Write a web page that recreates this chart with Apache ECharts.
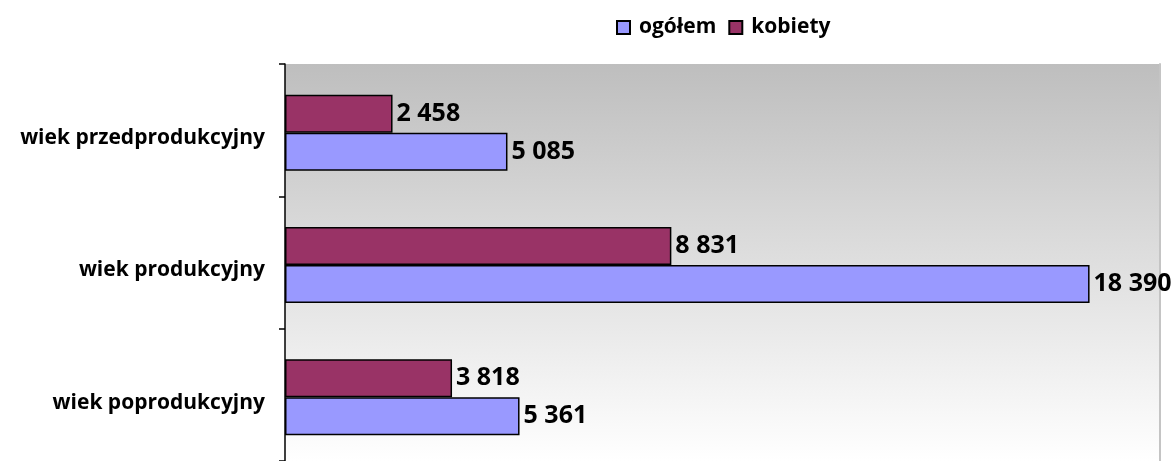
<!DOCTYPE html>
<html>
<head>
<meta charset="utf-8">
<script src="https://cdn.jsdelivr.net/npm/echarts@6/dist/echarts.min.js"></script>
<style>
  html, body { margin: 0; padding: 0; background: #fff; }
  #chart { width: 1176px; height: 461px; }
</style>
</head>
<body>
<div id="chart"></div>
<script>
// kategorie wieku (od góry)
const categories = ['wiek przedprodukcyjny', 'wiek produkcyjny', 'wiek poprodukcyjny'];
const kobiety = [2458, 8831, 3818];
const ogolem = [5085, 18390, 5361];
const legendNames = ['ogółem', 'kobiety'];

const FONT = '"Open Sans"';

// separator tysięcy jako spacja
const fmt = (v) => String(v).replace(/\B(?=(\d{3})+(?!\d))/g, ' ');

const chart = echarts.init(document.getElementById('chart'), null, { renderer: 'canvas' });

const barLabel = {
    show: true,
    position: 'right',
    distance: 4,
    color: '#000',
    fontFamily: FONT,
    fontWeight: 'bold',
    fontSize: 25,
    formatter: (p) => fmt(p.value)
};

chart.setOption({
    animation: false,
    legend: {
        data: legendNames,
        top: 12,
        left: 611,
        itemWidth: 13,
        itemHeight: 13,
        itemGap: 12,
        icon: 'rect',
        textStyle: {
            fontFamily: FONT, fontWeight: 'bold', fontSize: 21, color: '#000',
            padding: [0, 0, 0, 4]
        }
    },
    grid: {
        left: 285,
        right: 16,
        top: 64,
        height: 399,
        show: true,
        borderWidth: 0,
        backgroundColor: {
            type: 'linear', x: 0, y: 0, x2: 0, y2: 1,
            colorStops: [
                { offset: 0, color: '#bebebe' },
                { offset: 1, color: '#ffffff' }
            ]
        }
    },
    xAxis: {
        type: 'value',
        min: 0,
        max: 20000,
        show: false
    },
    yAxis: [{
        type: 'category',
        data: categories,
        inverse: true,
        axisLine: { show: true, lineStyle: { color: '#000', width: 1.5 } },
        axisTick: { show: true, length: 6, lineStyle: { color: '#000', width: 1.5 } },
        axisLabel: {
            margin: 20,
            color: '#000',
            fontFamily: FONT,
            fontWeight: 'bold',
            fontSize: 21,
            verticalAlign: 'top',
            lineHeight: 16
        }
    }, {
        type: 'category',
        data: categories,
        inverse: true,
        position: 'right',
        axisLine: { show: true, lineStyle: { color: '#c4c4c4', width: 2 } },
        axisTick: { show: false },
        axisLabel: { show: false }
    }],
    series: [{
        // pusty odstęp nad słupkami (przesuwa parę słupków lekko w dół)
        name: '_odstep',
        type: 'bar',
        data: [],
        barWidth: 5,
        barGap: '0%',
        silent: true
    }, {
        name: 'kobiety',
        type: 'bar',
        data: kobiety,
        barWidth: 38,
        barGap: '0%',
        itemStyle: { color: '#993366', borderColor: '#000', borderWidth: 1.5 },
        label: barLabel
    }, {
        name: 'ogółem',
        type: 'bar',
        data: ogolem,
        barWidth: 38,
        barGap: '0%',
        itemStyle: { color: '#9999ff', borderColor: '#000', borderWidth: 1.5 },
        label: barLabel
    }]
});

window.addEventListener('resize', () => chart.resize());
</script>
</body>
</html>
